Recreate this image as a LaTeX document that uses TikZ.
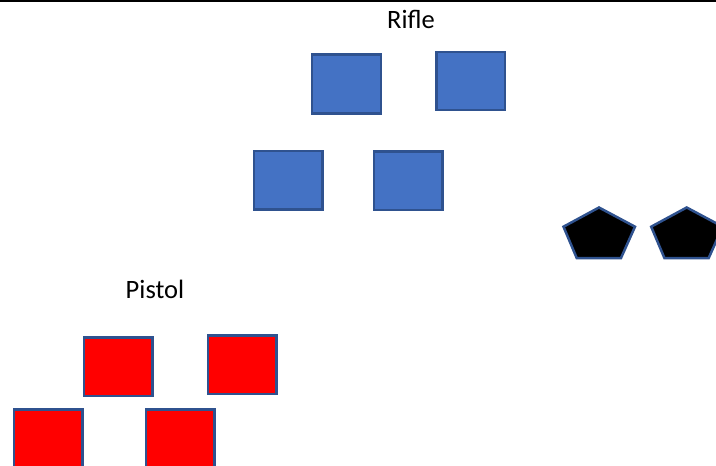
\documentclass[tikz,border=0pt]{standalone}
\usepackage{fontspec}
\setmainfont{Carlito}
\definecolor{edgeblue}{HTML}{2F528F}
\definecolor{fillblue}{HTML}{4472C4}
\definecolor{fillred}{HTML}{FF0000}
\begin{document}
\begin{tikzpicture}[x=1pt,y=-1pt,
  sq/.style={draw=edgeblue,line width=2.5pt,inner sep=0pt,outer sep=0pt,minimum width=68pt,minimum height=58pt,anchor=north west},
  bluesq/.style={sq,fill=fillblue},
  redsq/.style={sq,fill=fillred},
  penta/.style={draw=edgeblue,line width=2.5pt,fill=black,line join=miter},
  lbl/.style={font=\fontsize{26.5}{30}\selectfont,anchor=base,inner sep=0pt}]
\useasboundingbox (0,0) rectangle (716,466);
\clip (0,0) rectangle (716,466);
\fill[white] (0,0) rectangle (716,466);
\draw[line width=1.5pt] (0,0.75) -- (716,0.75);
\node[lbl] (rifle) at (411,28.5) {Rifle};
\node[lbl] (pistol) at (155,298.5) {Pistol};
% blue squares
\node[bluesq,minimum width=69pt,minimum height=59pt] (b1) at (312,54.5) {};
\node[bluesq,minimum width=68.5pt,minimum height=58pt] (b2) at (436.5,52) {};
\node[bluesq,minimum width=68.5pt,minimum height=58.5pt] (b3) at (254,151) {};
\node[bluesq,minimum width=68.5pt,minimum height=58.5pt] (b4) at (374,151.5) {};
% red squares
\node[redsq,minimum width=68.5pt,minimum height=58.5pt] (r1) at (84,337.5) {};
\node[redsq,minimum width=68.5pt,minimum height=58.5pt] (r2) at (208,335.5) {};
\node[redsq,minimum width=68.5pt,minimum height=70pt] (r3) at (14,409.5) {};
\node[redsq,minimum width=68.5pt,minimum height=70pt] (r4) at (146,409.5) {};
% pentagons
\draw[penta] (599,207.5) -- (635,226.7) -- (621,258) -- (576.7,258) -- (563.5,226.7) -- cycle;
\draw[penta] (686.7,207.5) -- (722.7,226.7) -- (708.7,258) -- (664.4,258) -- (651.2,226.7) -- cycle;
\end{tikzpicture}
\end{document}
